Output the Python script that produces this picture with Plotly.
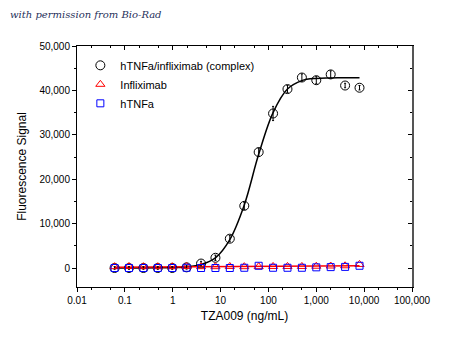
import plotly.graph_objects as go

conc = [0.061, 0.122, 0.244, 0.488, 0.977, 1.95, 3.91, 7.81, 15.6, 31.3,
        62.5, 125, 250, 500, 1000, 2000, 4000, 8000]
complex_vals = [0, 0, 0, 0, 0, 150, 1000, 2300, 6600, 14000,
                26100, 34800, 40300, 42900, 42300, 43600, 41100, 40600]
complex_err = [300, 300, 300, 300, 300, 400, 500, 600, 700, 800,
               900, 1600, 800, 800, 800, 800, 500, 500]
complex_fit = [0, 0, 10, 30, 80, 250, 800, 2300, 6400, 14200,
               25600, 35000, 40300, 42200, 42700, 42800, 42850, 42850]
inflix_vals = [300, 350, 300, 300, 300, 350, 300, 300, 350, 300,
               300, 350, 350, 350, 400, 450, 500, 800]
inflix_fit = [150, 170, 190, 210, 230, 250, 270, 290, 310, 330,
              350, 370, 390, 410, 430, 450, 470, 490]
htnf_vals = [0, 0, 0, 0, 0, 50, 0, 0, 0, 50,
             500, 50, 50, 50, 150, 200, 250, 500]

xticks = [0.01, 0.1, 1, 10, 100, 1000, 10000, 100000]
xticklabels = ["0.01", "0.1", "1", "10", "100", "1,000", "10,000", "100,000"]
yticks = [0, 10000, 20000, 30000, 40000, 50000]
yticklabels = ["0", "10,000", "20,000", "30,000", "40,000", "50,000"]

fig = go.Figure()
fig.add_trace(go.Scatter(x=conc, y=complex_fit, mode="lines", line=dict(color="black", width=1.5, shape="spline"),
                         showlegend=False, hoverinfo="skip"))
fig.add_trace(go.Scatter(x=conc, y=inflix_fit, mode="lines", line=dict(color="red", width=1.5),
                         showlegend=False, hoverinfo="skip"))
fig.add_trace(go.Scatter(x=conc, y=complex_vals, mode="markers", name="hTNFa/infliximab (complex)",
                         marker=dict(symbol="circle-open", size=9, color="black", line=dict(width=1)),
                         error_y=dict(type="data", array=complex_err, color="black", thickness=1, width=1)))
fig.add_trace(go.Scatter(x=conc, y=inflix_vals, mode="markers", name="Infliximab",
                         marker=dict(symbol="triangle-up-open", size=8, color="red", line=dict(width=1))))
fig.add_trace(go.Scatter(x=conc, y=htnf_vals, mode="markers", name="hTNFa",
                         marker=dict(symbol="square-open", size=7, color="blue", line=dict(width=1))))
# helper trace for top/right inside ticks
fig.add_trace(go.Scatter(x=[conc[0]], y=[0], xaxis="x2", yaxis="y2", mode="markers",
                         marker=dict(opacity=0), showlegend=False, hoverinfo="skip"))

font = dict(family="Liberation Sans, Arial, sans-serif", size=10, color="black")
fig.update_layout(
    width=450, height=344,
    margin=dict(l=77, r=38, t=46, b=57),
    paper_bgcolor="white", plot_bgcolor="white",
    font=font,
    xaxis=dict(type="log", range=[-2, 5], tickvals=xticks, ticktext=xticklabels,
               showline=True, linecolor="black", linewidth=1, ticks="outside", ticklen=4,
               tickcolor="black", showgrid=False, zeroline=False,
               minor=dict(ticks="outside", ticklen=2, tickcolor="black", showgrid=False),
               title=dict(text="TZA009 (ng/mL)", font=dict(size=12), standoff=6)),
    yaxis=dict(range=[-4280, 50000], tickvals=yticks, ticktext=yticklabels,
               showline=True, linecolor="black", linewidth=1, ticks="outside", ticklen=4,
               tickcolor="black", showgrid=False, zeroline=False,
               minor=dict(ticks="outside", ticklen=2, tickcolor="black", dtick=5000, tick0=0, showgrid=False),
               title=dict(text="Fluorescence Signal", font=dict(size=12), standoff=10)),
    xaxis2=dict(type="log", range=[-2, 5], overlaying="x", side="top", anchor="y2",
                tickvals=xticks, showticklabels=False, showline=True, linecolor="black", linewidth=1,
                ticks="inside", ticklen=4, tickcolor="black", showgrid=False, zeroline=False,
                minor=dict(ticks="inside", ticklen=2, tickcolor="black", showgrid=False)),
    yaxis2=dict(range=[-4280, 50000], overlaying="y", side="right", anchor="x2",
                tickvals=yticks, showticklabels=False, showline=True, linecolor="#555", linewidth=1.5,
                ticks="inside", ticklen=4, tickcolor="black", showgrid=False, zeroline=False,
                minor=dict(ticks="inside", ticklen=2, tickcolor="black", dtick=5000, tick0=0, showgrid=False)),
    legend=dict(x=0.01, y=0.98, xanchor="left", yanchor="top", bgcolor="rgba(0,0,0,0)",
                font=dict(size=11), tracegroupgap=0),
    annotations=[dict(text="<i>with permission from Bio-Rad</i>", xref="paper", yref="paper",
                      x=-0.206, y=1.129, xanchor="left", yanchor="middle", showarrow=False,
                      font=dict(family="DejaVu Serif, serif", size=10, color="#1f2f5a"))],
)

fig.write_html("out.html")
